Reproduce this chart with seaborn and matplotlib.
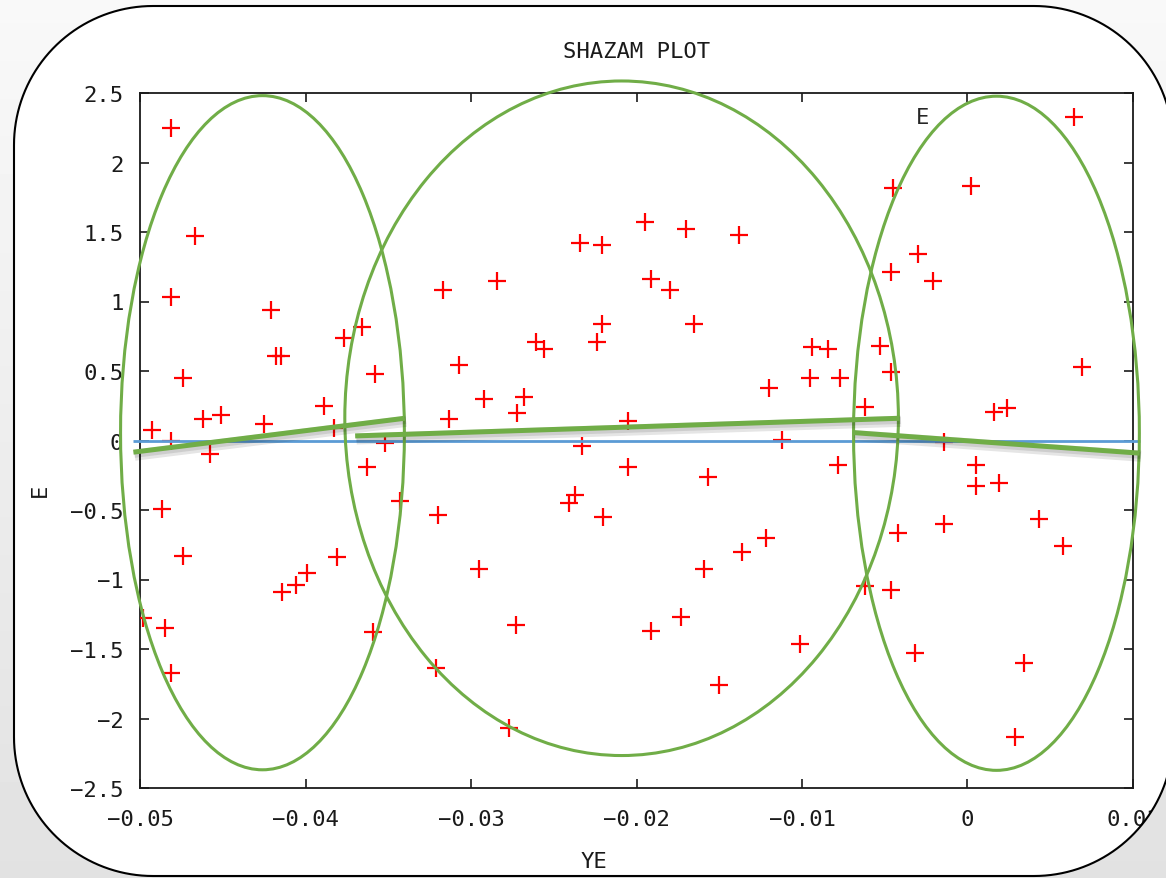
import numpy as np
import pandas as pd
import seaborn as sns
import matplotlib
matplotlib.use("Agg")
import matplotlib.pyplot as plt
from matplotlib.patches import Ellipse, PathPatch
from matplotlib.path import Path
import matplotlib.patheffects as pe

# ---- measurements ----
ye = [
    -0.0481, -0.0467, -0.0481, -0.0421, -0.0418, -0.0415, -0.0474, -0.0462, -0.0451, -0.0425,
    -0.0493, -0.0481, -0.0458, -0.0487, -0.0474, -0.0498, -0.0485, -0.0481, -0.0414, -0.0406,
    -0.0399, -0.0381, -0.0389, -0.0383, -0.0377, -0.0366, -0.0358, -0.0363, -0.0352, -0.0343,
    -0.0359, -0.0320, -0.0321, -0.0317, -0.0313, -0.0307,
    -0.0284, -0.0292, -0.0268, -0.0272, -0.0261, -0.0256, -0.0234, -0.0221, -0.0221, -0.0224,
    -0.0195, -0.0191, -0.0180, -0.0170, -0.0165, -0.0138, -0.0120, -0.0205, -0.0233, -0.0112,
    -0.0205, -0.0157, -0.0237, -0.0241, -0.0220, -0.0122, -0.0136, -0.0159, -0.0295, -0.0273,
    -0.0191, -0.0173, -0.0150, -0.0277, -0.0101,
    0.0002, -0.0045, -0.0030, -0.0046, -0.0021, -0.0094, -0.0084, -0.0053, -0.0095,
    -0.0077, -0.0046, -0.0062, 0.0016, 0.0024, 0.0069, -0.0014, -0.0078, 0.0005, 0.0005,
    0.0019, 0.0043, 0.0058, -0.0014, -0.0042, -0.0062, -0.0046, -0.0032, 0.0034, 0.0029,
]
e = [
    2.25, 1.47, 1.03, 0.94, 0.61, 0.61, 0.45, 0.155, 0.18, 0.12,
    0.076, 0.0, -0.097, -0.49, -0.83, -1.28, -1.35, -1.67, -1.09, -1.04,
    -0.955, -0.84, 0.25, 0.093, 0.74, 0.82, 0.48, -0.19, -0.015, -0.434,
    -1.38, -0.535, -1.64, 1.08, 0.155, 0.54,
    1.15, 0.30, 0.316, 0.20, 0.71, 0.656, 1.42, 1.41, 0.84, 0.71,
    1.57, 1.16, 1.08, 1.52, 0.84, 1.475, 0.38, 0.14, -0.04, 0.004,
    -0.19, -0.26, -0.39, -0.45, -0.55, -0.70, -0.80, -0.925, -0.925, -1.33,
    -1.37, -1.27, -1.76, -2.07, -1.463,
    1.83, 1.82, 1.345, 1.21, 1.147, 0.675, 0.658, 0.68, 0.448,
    0.448, 0.496, 0.24, 0.203, 0.232, 0.53, -0.01, -0.175, -0.175, -0.326,
    -0.307, -0.565, -0.762, -0.60, -0.668, -1.05, -1.073, -1.53, -1.60, -2.135,
]

x_ticks = [-0.05, -0.04, -0.03, -0.02, -0.01, 0.0, 0.01]
x_tick_labels = ["\u22120.05", "\u22120.04", "\u22120.03", "\u22120.02", "\u22120.01", "0", "0.01"]
y_ticks = [-2.5, -2.0, -1.5, -1.0, -0.5, 0.0, 0.5, 1.0, 1.5, 2.0, 2.5]
y_tick_labels = ["\u22122.5", "\u22122", "\u22121.5", "\u22121", "\u22120.5", "0",
                 "0.5", "1", "1.5", "2", "2.5"]

# cluster outlines (data units)
cluster_x = [-0.0426, -0.0209, 0.00175]
cluster_y = [0.056, 0.16, 0.052]
cluster_w = [0.01715, 0.03345, 0.01727]
cluster_h = [4.85, 4.853, 4.85]

# per-cluster trend segments
trend_x0 = [-0.0504, -0.0370, -0.0069]
trend_y0 = [-0.084, 0.033, 0.057]
trend_x1 = [-0.0340, -0.0041, 0.0104]
trend_y1 = [0.160, 0.160, -0.091]

baseline_x = [-0.0504, 0.0104]
baseline_y = [0.0, 0.0]

# ---- style ----
sns.set_style("ticks")
plt.rcParams["font.family"] = ["DejaVu Sans Mono", "DejaVu Sans"]
plt.rcParams["axes.unicode_minus"] = True

W, H = 1166, 879
fig = plt.figure(figsize=(W / 100, H / 100), dpi=100, facecolor="white")
ax = fig.add_axes([140 / W, 1 - 789 / H, 993 / W, 695 / H])
ax.set_facecolor("white")

GREEN = "#70AD47"
BLUE = "#5B9BD5"
INK = "#1a1a1a"

df = pd.DataFrame({"YE": ye, "E": e})
sns.scatterplot(data=df, x="YE", y="E", marker="+", color="red", s=150,
                linewidth=1.6, label="E", ax=ax, zorder=3)

ax.set_xlim(-0.05, 0.01)
ax.set_ylim(-2.5, 2.5)
ax.set_xticks(x_ticks)
ax.set_xticklabels(x_tick_labels)
ax.set_yticks(y_ticks)
ax.set_yticklabels(y_tick_labels)
ax.tick_params(direction="in", length=6.5, width=1.2, colors=INK,
               labelsize=16, top=True, right=True, labelcolor=INK)
ax.tick_params(axis="x", pad=15)
ax.tick_params(axis="y", pad=12)
for sp in ax.spines.values():
    sp.set_linewidth(1.3)
    sp.set_color(INK)
    sp.set_visible(True)

ax.set_title("SHAZAM PLOT", fontsize=16, pad=26, color=INK)
ax.set_xlabel("YE", fontsize=16, color=INK)
ax.set_ylabel("E", fontsize=16, color=INK)
ax.xaxis.set_label_coords((594 - 140) / 993, (789 - 852) / 695)
ax.yaxis.set_label_coords((50 - 140) / 993, (789 - 490) / 695)

ax.legend(loc="center right", bbox_to_anchor=((1096 - 140) / 993, (789 - 118) / 695),
          frameon=False, markerfirst=False, handlelength=2, handletextpad=5.5,
          borderpad=0, borderaxespad=0, fontsize=16)

# zero baseline
ax.plot(baseline_x, baseline_y, color=BLUE, lw=2.0, zorder=4, clip_on=False,
        solid_capstyle="butt")

# cluster ellipses
for cx, cy, w, h in zip(cluster_x, cluster_y, cluster_w, cluster_h):
    ax.add_patch(Ellipse((cx, cy), w, h, fill=False, edgecolor=GREEN, lw=2.2,
                         zorder=5, clip_on=False))

# trend segments with soft shadow
shadow = [pe.SimpleLineShadow(offset=(1.0, -2.2), shadow_color="black", alpha=0.10,
                              linewidth=8),
          pe.SimpleLineShadow(offset=(0.8, -1.6), shadow_color="black", alpha=0.10,
                              linewidth=5),
          pe.Normal()]
for x0, y0, x1, y1 in zip(trend_x0, trend_y0, trend_x1, trend_y1):
    ax.plot([x0, x1], [y0, y1], color=GREEN, lw=3.6, zorder=6, clip_on=False,
            solid_capstyle="butt", path_effects=shadow)


# ---- rounded frame around the figure ----
def rounded_rect(x0, y0, x1, y1, r, n=40):
    """Clockwise polygon of a rounded rectangle in pixel coords (y up)."""
    pts = []
    corners = [
        (x0 + r, y1 - r, 180, 90),    # top-left
        (x1 - r, y1 - r, 90, 0),      # top-right
        (x1 - r, y0 + r, 0, -90),     # bottom-right
        (x0 + r, y0 + r, -90, -180),  # bottom-left
    ]
    for cx, cy, a0, a1 in corners:
        for t in np.linspace(np.radians(a0), np.radians(a1), n):
            pts.append((cx + r * np.cos(t), cy + r * np.sin(t)))
    return np.array(pts)


inner = rounded_rect(14, H - 877, 1173, H - 7, 139)
inner_f = inner / np.array([W, H])
outer_f = np.array([[0, 0], [1, 0], [1, 1], [0, 1]])

verts = np.vstack([outer_f, [outer_f[0]], inner_f, [inner_f[0]]])
codes = ([Path.MOVETO] + [Path.LINETO] * 3 + [Path.CLOSEPOLY] +
         [Path.MOVETO] + [Path.LINETO] * (len(inner_f) - 1) + [Path.CLOSEPOLY])
outside_path = Path(verts, codes)

over = fig.add_axes([0, 0, 1, 1], zorder=10)
over.set_xlim(0, 1)
over.set_ylim(0, 1)
over.axis("off")
grad = np.linspace(0.975, 0.885, 256).reshape(-1, 1)
im = over.imshow(grad, extent=[0, 1, 0, 1], origin="upper", aspect="auto",
                 cmap="gray", vmin=0, vmax=1, transform=fig.transFigure)
clip_patch = PathPatch(outside_path, transform=fig.transFigure,
                       facecolor="none", edgecolor="none")
over.add_patch(clip_patch)
im.set_clip_path(clip_patch)

frame_path = Path(np.vstack([inner_f, [inner_f[0]]]),
                  [Path.MOVETO] + [Path.LINETO] * (len(inner_f) - 1) + [Path.CLOSEPOLY])
over.add_patch(PathPatch(frame_path, transform=fig.transFigure, facecolor="none",
                         edgecolor="black", lw=1.5))

fig.savefig("out.png", dpi=100, facecolor="white")
